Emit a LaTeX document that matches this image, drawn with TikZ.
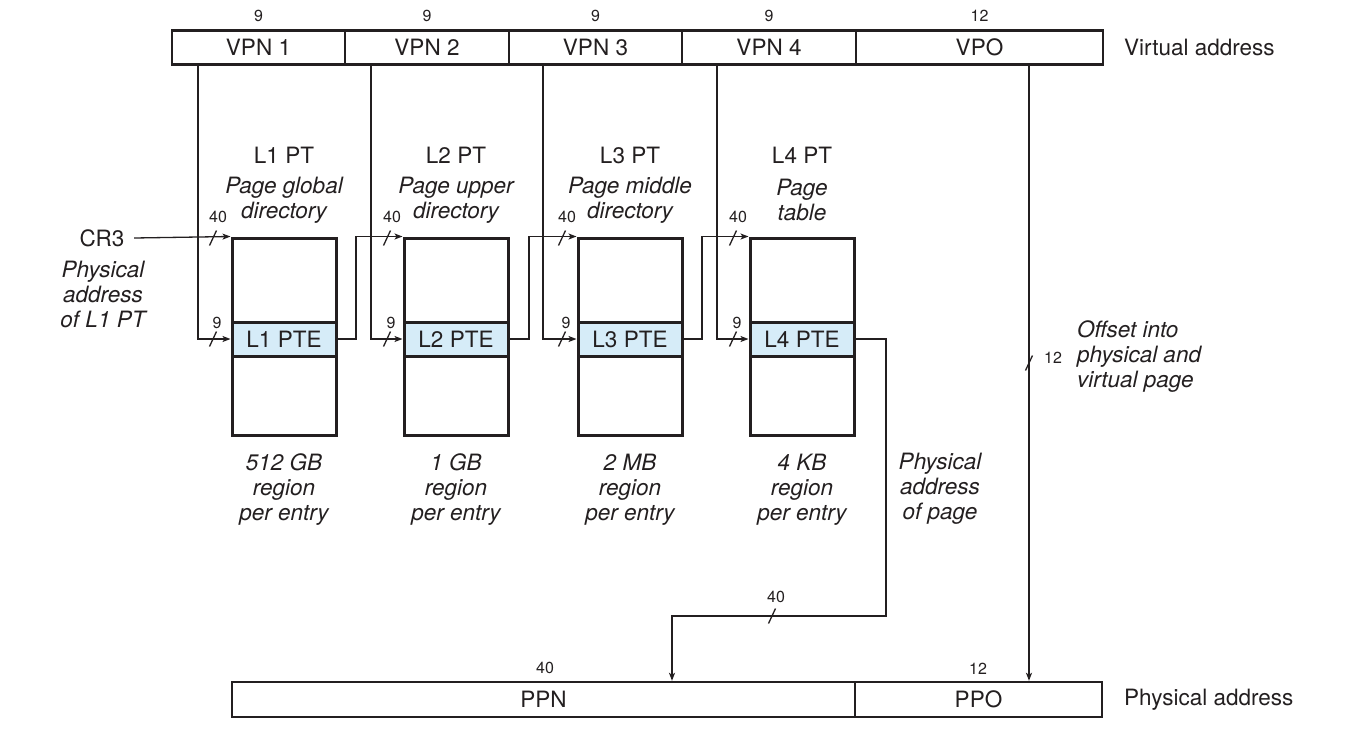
\documentclass[tikz,border=0pt]{standalone}
\usepackage{fontspec}
\setmainfont{TeX Gyre Heros}
\usetikzlibrary{arrows.meta,calc}
\definecolor{ink}{RGB}{35,31,32}
\definecolor{pteblue}{RGB}{214,236,248}
\tikzset{
  every node/.style={font=\fontsize{22.5}{24}\selectfont, text=ink},
  field/.style={draw=ink, line width=2.4pt, minimum height=34pt, inner sep=0pt},
  ptbox/.style={draw=ink, line width=3pt, minimum width=104pt, minimum height=197pt, inner sep=0pt},
  pteband/.style={draw=ink, line width=3pt, fill=pteblue, minimum width=104pt, minimum height=34pt, inner sep=0pt},
  wire/.style={draw=ink, line width=1.3pt},
  arr/.style={wire, -{Stealth[length=8pt,width=6pt,inset=2pt]}},
  bits/.style={font=\fontsize{16}{16}\selectfont, inner sep=0pt},
  tickline/.style={draw=ink, line width=1.3pt},
  note/.style={font=\fontsize{22.5}{25}\selectfont\itshape, align=center, inner sep=0pt},
}
\newcommand\slashat[1]{\draw[tickline] ($(#1)+(-3.5,7.5)$) -- ($(#1)+(3.5,-7.5)$);}
\begin{document}
\begin{tikzpicture}[x=1pt,y=-1pt]
\useasboundingbox (0,0) rectangle (1353,745);

% virtual address bar
\node[field, minimum width=173pt] (vpn1) at (258.5,47.5) {VPN 1};
\node[field, minimum width=164pt] (vpn2) at (427,47.5) {VPN 2};
\node[field, minimum width=173pt] (vpn3) at (595.5,47.5) {VPN 3};
\node[field, minimum width=174pt] (vpn4) at (769,47.5) {VPN 4};
\node[field, minimum width=247pt] (vpo) at (979.5,47.5) {VPO};
\node[anchor=west, inner sep=0pt] (vlabel) at (1124,47.5) {Virtual address};
\node[bits] (b1) at (258.5,16) {9};
\node[bits] (b2) at (427,16) {9};
\node[bits] (b3) at (595.5,16) {9};
\node[bits] (b4) at (769,16) {9};
\node[bits] (b5) at (979.5,16) {12};

% physical address bar
\node[field, minimum width=623pt, minimum height=35pt] (ppn) at (543.5,699.5) {PPN};
\node[field, minimum width=247pt, minimum height=35pt] (ppo) at (978.5,699.5) {PPO};
\node[anchor=west, inner sep=0pt] (plabel) at (1124,700) {Physical address};
\node[bits] (pb1) at (545,668) {40};
\node[bits] (pb2) at (978,669) {12};

% page tables
\foreach \i/\cx in {1/284,2/456,3/630,4/802}{
  \node[ptbox] (l\i) at (\cx,336.5) {};
  \node[pteband] (l\i pte) at (\cx,339) {L\i\ PTE};
  \node (t\i) at (\cx,155) {L\i\ PT};
}
\node[note] (d1) at (284,200) {Page global\\directory};
\node[note] (d2) at (456,200) {Page upper\\directory};
\node[note] (d3) at (630,200) {Page middle\\directory};
\node[note] (d4) at (802,200) {Page\\table};
\node[note] (r1) at (284,490) {512 GB\\region\\per entry};
\node[note] (r2) at (456,490) {1 GB\\region\\per entry};
\node[note] (r3) at (630,490) {2 MB\\region\\per entry};
\node[note] (r4) at (802,490) {4 KB\\region\\per entry};

% CR3
\node (cr3) at (102,238) {CR3};
\node[note] (cr3note) at (103,294) {Physical\\address\\of L1 PT};
\draw[arr] ([xshift=6pt]cr3.east) -- (l1.north west);

% helper coordinates
\coordinate (v1) at (198,0);
\coordinate (v2) at (371,0);
\coordinate (v3) at (543,0);
\coordinate (v4) at (717,0);
\coordinate (v5) at (1029,0);
\coordinate (j1) at (356,0);
\coordinate (j2) at (529,0);
\coordinate (j3) at (702,0);
\coordinate (j4) at (886,616);
\coordinate (a4) at (672,0);

% VPN lines into PTEs
\draw[arr] (vpn1.south -| v1) |- (l1pte.west);
\draw[arr] (vpn2.south -| v2) |- (l2pte.west);
\draw[arr] (vpn3.south -| v3) |- (l3pte.west);
\draw[arr] (vpn4.south -| v4) |- (l4pte.west);

% PTE to next table
\draw[arr] (l1pte.east) -| (j1 |- l2.north west) -- (l2.north west);
\draw[arr] (l2pte.east) -| (j2 |- l3.north west) -- (l3.north west);
\draw[arr] (l3pte.east) -| (j3 |- l4.north west) -- (l4.north west);

% L4 PTE to PPN
\draw[arr] (l4pte.east) -| (j4) -| (ppn.north -| a4);
% VPO to PPO
\draw[arr] (vpo.south -| v5) -- (ppo.north -| v5);

% slash marks and widths
\coordinate (s1a) at (213,238); \coordinate (s1b) at (213,339);
\coordinate (s2a) at (387,238); \coordinate (s2b) at (387,339);
\coordinate (s3a) at (562,238); \coordinate (s3b) at (562,339);
\coordinate (s4a) at (733,238); \coordinate (s4b) at (733,339);
\coordinate (s5) at (772,616);
\coordinate (s6) at (1029,363);
\foreach \s in {s1a,s1b,s2a,s2b,s3a,s3b,s4a,s4b,s5,s6}{\slashat{\s}}
\foreach \i/\x in {1/213,2/387,3/562,4/733}{
  \node[bits] (w\i a) at (\x+5,217) {40};
  \node[bits] (w\i b) at (\x+4,323) {9};
}
\node[bits] (w5) at (776,597) {40};
\node[bits] (w6) at (1053,358) {12};

\node[note] (pnote) at (940,489) {Physical\\address\\of page};
\node[note, align=left, anchor=west] (onote) at (1077,357) {Offset into\\physical and\\virtual page};
\end{tikzpicture}
\end{document}
